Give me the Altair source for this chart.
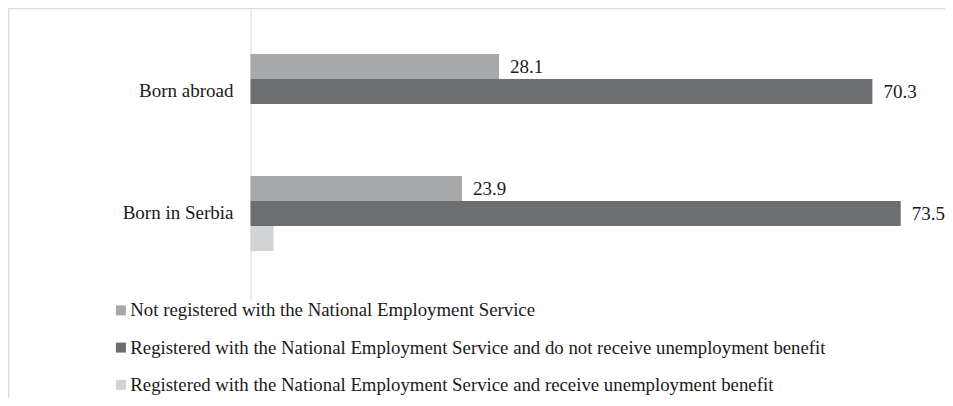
import altair as alt
import pandas as pd

categories = ["Born abroad", "Born in Serbia"]
series = [
    "Not registered with the National Employment Service",
    "Registered with the National Employment Service and do not receive unemployment benefit",
    "Registered with the National Employment Service and receive unemployment benefit",
]
born_abroad = [28.1, 70.3, None]
born_serbia = [23.9, 73.5, 2.6]
colors = ["#a7a8aa", "#6d6e71", "#d2d3d5"]

rows = []
for cat, vals in zip(categories, [born_abroad, born_serbia]):
    for s, v in zip(series, vals):
        if v is not None:
            rows.append({"category": cat, "series": s, "value": v})
df = pd.DataFrame(rows)

FONT = "Liberation Serif"
FS = 19

y_enc = alt.Y(
    "category:N",
    sort=categories,
    scale=alt.Scale(paddingInner=0.385, paddingOuter=0.389, align=0.484),
    axis=alt.Axis(
        title=None,
        ticks=False,
        labelPadding=17.5,
        labelFont=FONT,
        labelFontSize=FS,
        labelColor="#1a1a1a",
        domainColor="#d9d9d9",
        domainWidth=1,
    ),
)
yoff = alt.YOffset("series:N", sort=series, scale=alt.Scale(domain=series, paddingInner=0, paddingOuter=0))
x_enc = alt.X("value:Q", scale=alt.Scale(domain=[0, 78], nice=False, zero=True), axis=None)

bars = alt.Chart(df).mark_bar(size=25).encode(
    y=y_enc,
    yOffset=yoff,
    x=x_enc,
    color=alt.Color(
        "series:N",
        sort=series,
        scale=alt.Scale(domain=series, range=colors),
        legend=alt.Legend(
            title=None,
            orient="none",
            legendX=-139,
            legendY=293,
            direction="vertical",
            symbolType="square",
            symbolSize=100,
            symbolStrokeWidth=0,
            labelFont=FONT,
            labelFontSize=18.8,
            labelColor="#1a1a1a",
            labelOffset=0,
            labelLimit=900,
            rowPadding=17.2,
            padding=0,
        ),
    ),
)

labels = (
    alt.Chart(df)
    .transform_filter(alt.FieldOneOfPredicate(field="series", oneOf=series[:2]))
    .mark_text(align="left", baseline="middle", dx=11, dy=0.5, font=FONT, fontSize=FS, color="#1a1a1a")
    .encode(y=y_enc, yOffset=yoff, x=x_enc, text=alt.Text("value:Q", format=".1f"))
)

frame_df = pd.DataFrame({"k": [0]})
top_border = alt.Chart(frame_df).mark_rule(color="#dcdcdc", strokeWidth=1.5).encode(
    x=alt.value(-242), x2=alt.value(720), y=alt.value(0.5)
)
left_border = alt.Chart(frame_df).mark_rule(color="#dcdcdc", strokeWidth=1.5).encode(
    x=alt.value(-242), y=alt.value(0), y2=alt.value(400)
)

chart = (
    alt.layer(top_border, left_border, bars, labels)
    .properties(
        width=690,
        height=292,
        autosize=alt.AutoSizeParams(type="none"),
        padding={"left": 242.5, "top": 0, "right": 4, "bottom": 98},
        background="white",
    )
    .configure_view(stroke=None)
)

chart.save("out.html", embed_options={"renderer": "svg", "actions": False})
